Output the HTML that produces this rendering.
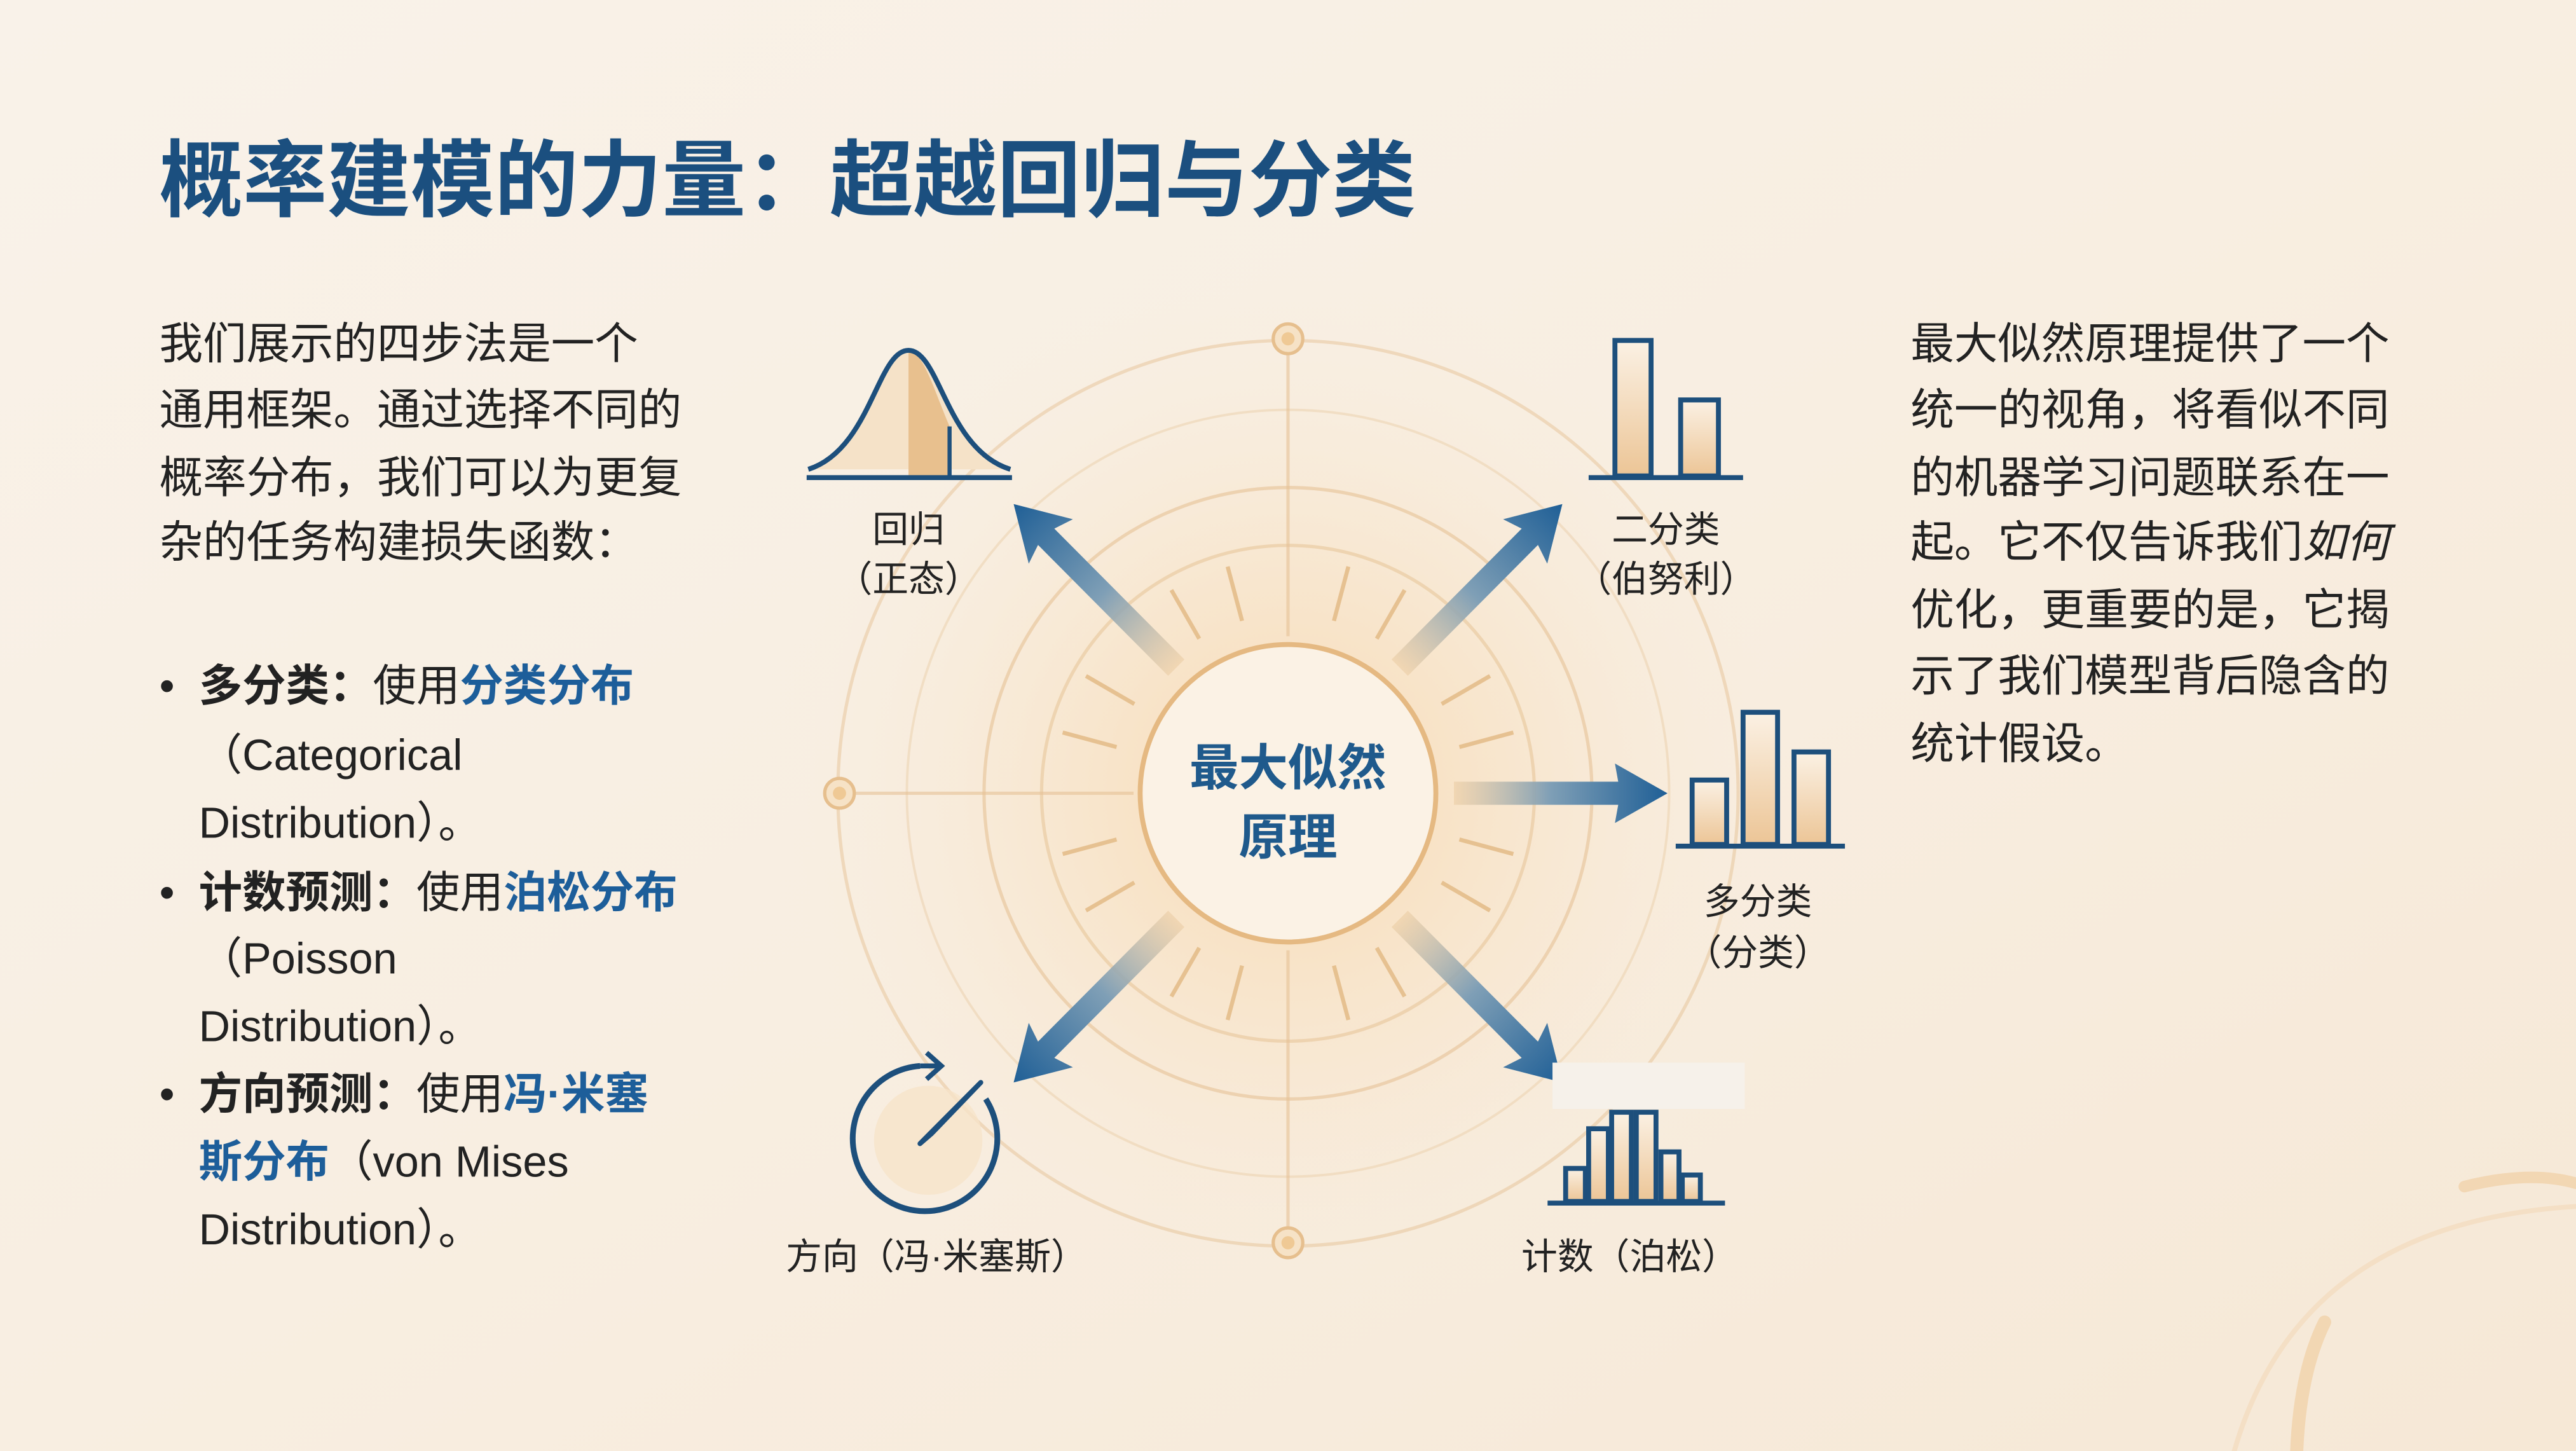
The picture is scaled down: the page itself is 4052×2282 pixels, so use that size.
<!DOCTYPE html>
<html><head><meta charset="utf-8"><style>
html,body{margin:0;padding:0;background:#f8efe3;}
svg{display:block;}
text{font-family:"Liberation Sans","Noto Sans CJK SC",sans-serif;}
</style></head><body>
<svg width="4052" height="2282" viewBox="0 0 1568 878" preserveAspectRatio="none" xmlns="http://www.w3.org/2000/svg">
<defs>
<linearGradient id="bg" x1="0" y1="0" x2="1" y2="1">
<stop offset="0" stop-color="#f9f2e9"/><stop offset="0.5" stop-color="#f8eee1"/><stop offset="1" stop-color="#f6e8d6"/></linearGradient>
<radialGradient id="glow" cx="0.5" cy="0.5" r="0.5">
<stop offset="0" stop-color="#f7d7ac" stop-opacity="0.9"/><stop offset="0.4" stop-color="#f8e1c2" stop-opacity="0.6"/><stop offset="1" stop-color="#f8efe3" stop-opacity="0"/></radialGradient>
<linearGradient id="arr" x1="0" y1="0" x2="1" y2="0">
<stop offset="0" stop-color="#eccda4" stop-opacity="0.6"/><stop offset="0.45" stop-color="#7f9fb6"/><stop offset="1" stop-color="#1f5f96"/></linearGradient>
<linearGradient id="bar" x1="0" y1="0" x2="0" y2="1">
<stop offset="0" stop-color="#fbf1e4"/><stop offset="1" stop-color="#ecc596"/></linearGradient>
<g id="arrow"><path d="M0,-7 L112,-7 L108,-19 L140,0 L108,19 L112,7 L0,7 Z" fill="url(#arr)"/></g>
<g id="arrowR"><path d="M0,-7 L100,-7 L98,-18 L130,0 L98,18 L100,7 L0,7 Z" fill="url(#arr)"/></g>
</defs>
<rect width="1568" height="878" fill="url(#bg)"/>
<circle cx="784" cy="480" r="330" fill="url(#glow)"/>

<g fill="none" stroke="#f1cfa4" stroke-linecap="round">
<path d="M1500,718 Q1540,708 1568,716" stroke-width="7" opacity="0.7"/>
<path d="M1415,800 Q1400,830 1398,878" stroke-width="8" opacity="0.7"/>
<path d="M1360,878 Q1400,740 1568,730" stroke-width="3" opacity="0.35"/>
</g>

<text x="97" y="127" font-size="51" font-weight="bold" fill="#1b4f7f">概率建模的力量：超越回归与分类</text>

<g font-size="26.5" fill="#222">
<text x="97" y="217">我们展示的四步法是一个</text>
<text x="97" y="257">通用框架。通过选择不同的</text>
<text x="97" y="298">概率分布，我们可以为更复</text>
<text x="97" y="337">杂的任务构建损失函数：</text>
<text x="97" y="424">•</text>
<text x="121" y="424"><tspan font-weight="bold">多分类：</tspan>使用<tspan font-weight="bold" fill="#1d5e9a">分类分布</tspan></text>
<text x="121" y="466">（Categorical</text>
<text x="121" y="507">Distribution）。</text>
<text x="97" y="549">•</text>
<text x="121" y="549"><tspan font-weight="bold">计数预测：</tspan>使用<tspan font-weight="bold" fill="#1d5e9a">泊松分布</tspan></text>
<text x="121" y="589">（Poisson</text>
<text x="121" y="630">Distribution）。</text>
<text x="97" y="671">•</text>
<text x="121" y="671"><tspan font-weight="bold">方向预测：</tspan>使用<tspan font-weight="bold" fill="#1d5e9a">冯·米塞</tspan></text>
<text x="121" y="712"><tspan font-weight="bold" fill="#1d5e9a">斯分布</tspan>（von Mises</text>
<text x="121" y="753">Distribution）。</text>
</g>

<g font-size="26.5" fill="#222">
<text x="1163" y="217">最大似然原理提供了一个</text>
<text x="1163" y="257">统一的视角，将看似不同</text>
<text x="1163" y="298">的机器学习问题联系在一</text>
<text x="1163" y="337">起。它不仅告诉我们<tspan font-style="italic">如何</tspan></text>
<text x="1163" y="378">优化，更重要的是，它揭</text>
<text x="1163" y="418">示了我们模型背后隐含的</text>
<text x="1163" y="459">统计假设。</text>
</g>

<g fill="none" stroke="#e6c296">
<circle cx="784" cy="480" r="274" stroke-width="2" opacity="0.5"/>
<circle cx="784" cy="480" r="232" stroke-width="1.5" opacity="0.35"/>
<circle cx="784" cy="480" r="185" stroke-width="2" opacity="0.6"/>
<circle cx="784" cy="480" r="150" stroke-width="2" opacity="0.55"/>
<line x1="784" y1="205" x2="784" y2="385" stroke-width="2" opacity="0.6"/>
<line x1="784" y1="575" x2="784" y2="752" stroke-width="2" opacity="0.6"/>
<line x1="520" y1="480" x2="690" y2="480" stroke-width="2" opacity="0.6"/>
</g>
<g fill="#f6e2c6" stroke="#e6bf8e" stroke-width="2">
<circle cx="784" cy="205" r="9"/><circle cx="784" cy="752" r="9"/><circle cx="511" cy="480" r="9"/>
</g>
<g fill="#efc995"><circle cx="784" cy="205" r="4"/><circle cx="784" cy="752" r="4"/><circle cx="511" cy="480" r="4"/></g>
<g stroke="#e4bb87" stroke-width="2.5" opacity="0.85">
<line x1="784" y1="372" x2="784" y2="338" transform="rotate(15 784 480)"/>
<line x1="784" y1="372" x2="784" y2="338" transform="rotate(30 784 480)"/>
<line x1="784" y1="372" x2="784" y2="338" transform="rotate(60 784 480)"/>
<line x1="784" y1="372" x2="784" y2="338" transform="rotate(75 784 480)"/>
<line x1="784" y1="372" x2="784" y2="338" transform="rotate(105 784 480)"/>
<line x1="784" y1="372" x2="784" y2="338" transform="rotate(120 784 480)"/>
<line x1="784" y1="372" x2="784" y2="338" transform="rotate(150 784 480)"/>
<line x1="784" y1="372" x2="784" y2="338" transform="rotate(165 784 480)"/>
<line x1="784" y1="372" x2="784" y2="338" transform="rotate(195 784 480)"/>
<line x1="784" y1="372" x2="784" y2="338" transform="rotate(210 784 480)"/>
<line x1="784" y1="372" x2="784" y2="338" transform="rotate(240 784 480)"/>
<line x1="784" y1="372" x2="784" y2="338" transform="rotate(255 784 480)"/>
<line x1="784" y1="372" x2="784" y2="338" transform="rotate(285 784 480)"/>
<line x1="784" y1="372" x2="784" y2="338" transform="rotate(300 784 480)"/>
<line x1="784" y1="372" x2="784" y2="338" transform="rotate(330 784 480)"/>
<line x1="784" y1="372" x2="784" y2="338" transform="rotate(345 784 480)"/>
</g>

<circle cx="784" cy="480" r="90" fill="#fbf2e5" stroke="#e5b982" stroke-width="3"/>
<g font-size="30" font-weight="bold" fill="#1f5a8c" text-anchor="middle">
<text x="784" y="475">最大似然</text>
<text x="784" y="517">原理</text>
</g>

<use href="#arrow" transform="translate(716,404) rotate(-135)"/>
<use href="#arrow" transform="translate(852,404) rotate(-45)"/>
<use href="#arrowR" transform="translate(885,480)"/>
<use href="#arrow" transform="translate(716,556) rotate(135)"/>
<use href="#arrow" transform="translate(852,556) rotate(45)"/>

<path d="M553,212 C572,212 576,270 615,284 L553,284 Z M553,212 C534,212 530,270 492,284 L553,284 Z" fill="#f5e2c8"/>
<path d="M553,212 C562,212 570,240 578,258 L578,288 L553,288 Z" fill="#e8c08e"/>
<path d="M492,284 C530,272 534,212 553,212 C572,212 576,272 615,284" fill="none" stroke="#1d4f7c" stroke-width="3"/>
<line x1="578" y1="258" x2="578" y2="288" stroke="#1d4f7c" stroke-width="2.5"/>
<line x1="491" y1="289" x2="616" y2="289" stroke="#1d4f7c" stroke-width="3"/>
<g font-size="22" fill="#222" text-anchor="middle">
<text x="553" y="328">回归</text>
<text x="553" y="358">（正态）</text>
</g>

<g stroke="#1d4f7c" stroke-width="3" fill="url(#bar)">
<rect x="983" y="206" width="22" height="82"/>
<rect x="1023" y="242" width="23" height="46"/>
<line x1="967" y1="289" x2="1061" y2="289"/>
</g>
<g font-size="22" fill="#222" text-anchor="middle">
<text x="1014" y="328">二分类</text>
<text x="1014" y="358">（伯努利）</text>
</g>

<g stroke="#1d4f7c" stroke-width="3" fill="url(#bar)">
<rect x="1030" y="472" width="21" height="39"/>
<rect x="1061" y="431" width="21" height="80"/>
<rect x="1092" y="455" width="21" height="56"/>
<line x1="1020" y1="512" x2="1123" y2="512"/>
</g>
<g font-size="22" fill="#222" text-anchor="middle">
<text x="1070" y="553">多分类</text>
<text x="1070" y="584">（分类）</text>
</g>

<rect x="945" y="643" width="117" height="28" fill="#f6f1ea"/>
<g stroke="#1d4f7c" stroke-width="3" fill="url(#bar)">
<rect x="953" y="707" width="12" height="20"/>
<rect x="967" y="683" width="12" height="44"/>
<rect x="981" y="673" width="12" height="54"/>
<rect x="996" y="673" width="12" height="54"/>
<rect x="1011" y="697" width="11" height="30"/>
<rect x="1024" y="711" width="11" height="16"/>
<line x1="942" y1="728" x2="1050" y2="728"/>
</g>
<text x="992" y="768" font-size="22" fill="#222" text-anchor="middle">计数（泊松）</text>

<circle cx="565" cy="690" r="33" fill="#f6e3c9" opacity="0.8"/>
<path d="M560,645 A44,44 0 1,0 600,665" fill="none" stroke="#1d4f7c" stroke-width="3.5"/>
<path d="M560,645 L572,645" stroke="#1d4f7c" stroke-width="3" fill="none"/>
<path d="M564,637 L573,645 L564,653" stroke="#1d4f7c" stroke-width="3" fill="none"/>
<path d="M560,692 L597,655 L567,686 Z" fill="#f1d3a8" stroke="#1d4f7c" stroke-width="3" stroke-linejoin="round"/>
<text x="570" y="768" font-size="22" fill="#222" text-anchor="middle">方向（冯·米塞斯）</text>
</svg>
</body></html>
